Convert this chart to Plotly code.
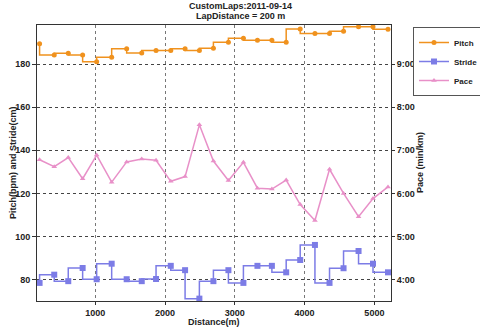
import plotly.graph_objects as go

distance = [202, 412, 613, 819, 1020, 1235, 1450, 1666, 1871, 2082, 2287, 2492, 2693,
            2908, 3123, 3324, 3531, 3736, 3937, 4148, 4357, 4558, 4773, 4980, 5195]
pitch = [189.4, 184.2, 185.0, 184.2, 181.1, 183.1, 187.1, 185.1, 186.3, 186.3, 187.1, 186.3, 187.3,
         190.1, 191.9, 191.0, 191.0, 190.1, 196.2, 194.2, 194.2, 195.2, 197.3, 197.3, 196.1]
stride = [78.5, 82.3, 79.3, 85.4, 80.2, 87.4, 80.2, 79.3, 80.3, 86.4, 84.4, 71.2, 79.3,
          84.4, 78.5, 86.4, 86.4, 83.4, 89.1, 96.1, 78.5, 85.3, 93.3, 87.4, 83.4]
# pace in minutes per km
pace = [6.78, 6.62, 6.83, 6.34, 6.89, 6.26, 6.73, 6.80, 6.77, 6.28, 6.39, 7.59, 6.75,
        6.30, 6.72, 6.12, 6.10, 6.31, 5.74, 5.37, 6.56, 6.00, 5.46, 5.88, 6.15]

pace_ticks = [4, 5, 6, 7, 8, 9]
pace_labels = ["4:00", "5:00", "6:00", "7:00", "8:00", "9:00"]
left_ticks = [80, 100, 120, 140, 160, 180]
x_ticks = [1000, 2000, 3000, 4000, 5000]

ORANGE = "#F0921E"
BLUE = "#7C7CE6"
PINK = "#E890C8"
FAM = "Liberation Sans, Arial, sans-serif"
FONT = dict(family=FAM, size=9, color="#222", weight="bold")
LEG_FONT = dict(family=FAM, size=8, color="#222", weight="bold")

L, R, T, B = 37, 89, 25, 28
W, H = 480, 329
PW, PH = W - L - R, H - T - B


def px_x(px):
    return (px - L) / PW


def px_y(py):
    return (H - B - py) / PH


fig = go.Figure()
fig.add_trace(go.Scatter(x=distance, y=pitch, name="Pitch", mode="lines+markers",
                         line=dict(color=ORANGE, width=1.5, shape="vh"),
                         marker=dict(symbol="circle", size=5, color=ORANGE)))
fig.add_trace(go.Scatter(x=distance, y=stride, name="Stride", mode="lines+markers",
                         line=dict(color=BLUE, width=1.5, shape="vh"),
                         marker=dict(symbol="square", size=6, color=BLUE)))
fig.add_trace(go.Scatter(x=distance, y=pace, name="Pace", mode="lines+markers", yaxis="y2",
                         line=dict(color=PINK, width=1.5),
                         marker=dict(symbol="triangle-up", size=5, color=PINK)))

yl = [70.1, 198.1]
y2 = [4 + (yl[0] - 80) / 20, 4 + (yl[1] - 80) / 20]

annots = [
    dict(text="CustomLaps:2011-09-14", x=px_x(240), y=px_y(6)),
    dict(text="LapDistance = 200 m", x=px_x(240), y=px_y(16)),
    dict(text="Distance(m)", x=px_x(214), y=px_y(322)),
    dict(text="Pitch(bpm) and Stride(cm)", x=px_x(13), y=px_y(163), textangle=-90),
    dict(text="Pace (min/km)", x=px_x(420), y=px_y(163), textangle=-90),
]
for a in annots:
    a.update(xref="paper", yref="paper", xanchor="center", yanchor="middle",
             showarrow=False, font=FONT)

fig.update_layout(
    width=W, height=H,
    margin=dict(l=L, r=R, t=T, b=B, autoexpand=False),
    paper_bgcolor="white", plot_bgcolor="white",
    font=FONT,
    annotations=annots,
    showlegend=True,
    legend=dict(x=px_x(413), y=px_y(27), xanchor="left", yanchor="top", bordercolor="#555",
                borderwidth=1, bgcolor="white", font=LEG_FONT, tracegroupgap=0, itemwidth=30),
    xaxis=dict(range=[165, 5238], tickvals=x_ticks, automargin=False,
               showgrid=True, gridcolor="#777", griddash="dot", gridwidth=1,
               showline=True, linecolor="#333", linewidth=1, mirror=True,
               ticks="outside", ticklen=3, tickcolor="#333", zeroline=False),
    yaxis=dict(range=yl, tickvals=left_ticks, automargin=False,
               showgrid=True, gridcolor="#444", griddash="dot", gridwidth=1,
               showline=True, linecolor="#333", linewidth=1, mirror=True,
               ticks="outside", ticklen=4, tickcolor="#333", zeroline=False),
    yaxis2=dict(range=y2, overlaying="y", side="right", tickvals=pace_ticks, ticktext=pace_labels,
                automargin=False, showgrid=False, showline=False, ticks="outside", ticklen=3,
                tickcolor="#333", zeroline=False),
)

fig.write_html("out.html")
